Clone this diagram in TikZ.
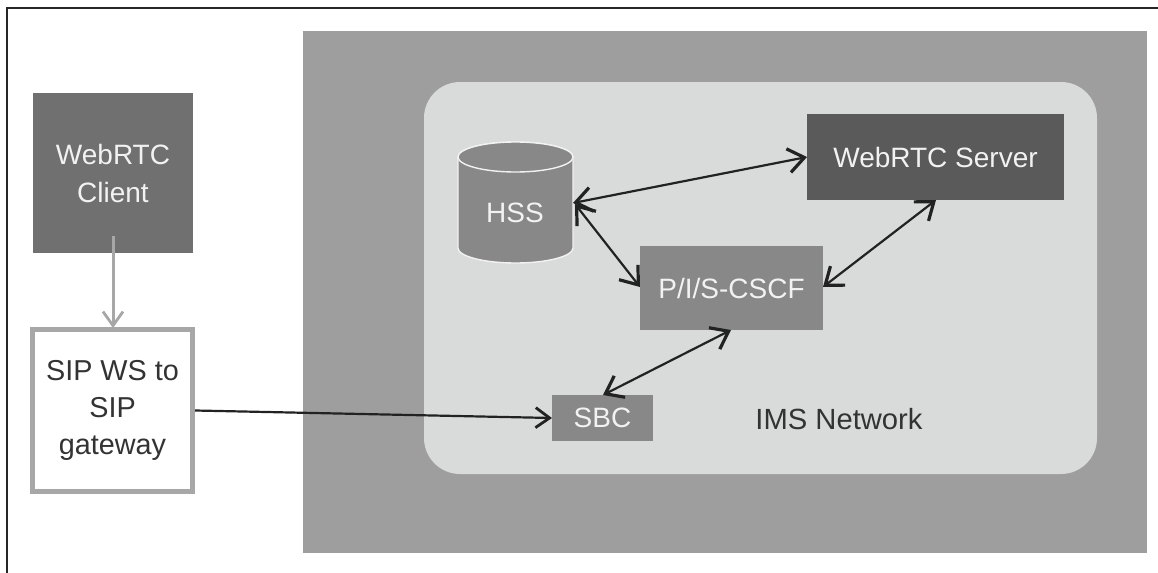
\documentclass[tikz,border=0pt]{standalone}
\usepackage{fontspec}
\setmainfont{Liberation Sans}
\usetikzlibrary{arrows.meta}
\definecolor{outerc}{HTML}{9D9E9D}
\definecolor{innerc}{HTML}{D9DBDA}
\definecolor{clientc}{HTML}{707070}
\definecolor{serverc}{HTML}{5A5A5A}
\definecolor{midc}{HTML}{888888}
\definecolor{gatec}{HTML}{A6A7A6}
\definecolor{linec}{HTML}{222222}
\definecolor{softw}{HTML}{F2F2F2}
\tikzset{
  x=0.5pt,y=-0.5pt,
  area/.style={anchor=north west,inner sep=0pt,outer sep=0pt},
  dark/.style={area,text=softw,align=center,font=\fontsize{14}{19}\selectfont},
  link/.style={draw=linec,line width=1.1pt,{Straight Barb[length=8pt,width=12pt,line width=1.6pt]}-{Straight Barb[length=8pt,width=12pt,line width=1.6pt]}},
  oneway/.style={draw=linec,line width=1.1pt,-{Straight Barb[length=7pt,width=10pt,line width=1.4pt]}},
}
\begin{document}
\begin{tikzpicture}
\useasboundingbox (0,0) rectangle (1158,573);
\draw[draw=black!85,line width=1.1pt] (7,573) -- (7,8) -- (1158,8);
\node[area,fill=outerc,minimum width=422pt,minimum height=261pt] (net) at (303,31) {};
\node[area,fill=innerc,rounded corners=18pt,minimum width=336.5pt,minimum height=196pt] (ims) at (424,82) {};
\node[dark,fill=clientc,minimum width=80pt,minimum height=80pt] (client) at (33,93) {WebRTC\\Client};
\node[area,draw=gatec,fill=white,line width=2.5pt,minimum width=80pt,minimum height=81pt,text=black!80,align=center,font=\fontsize{14.4}{18.3}\selectfont] (gate) at (32.5,329.5) {SIP WS to\\SIP\\gateway};
\node[dark,fill=serverc,minimum width=128.5pt,minimum height=43pt] (server) at (807,114) {WebRTC Server};
\node[dark,fill=midc,minimum width=91.5pt,minimum height=42pt] (cscf) at (640,246) {P/I/S-CSCF};
\node[dark,fill=midc,minimum width=50.5pt,minimum height=23pt] (sbc) at (552,395) {SBC};
% HSS cylinder
\draw[draw=softw,fill=midc,line width=0.7pt] (458,157) arc[x radius=57.5,y radius=15,start angle=180,end angle=360] -- (573,248) arc[x radius=57.5,y radius=15,start angle=0,end angle=180] -- cycle;
\draw[draw=softw,fill=midc,line width=0.7pt] (515.5,157) ellipse[x radius=57.5,y radius=15];
\node[text=softw,font=\fontsize{14}{20}\selectfont,inner sep=0pt] (hss) at (515,213) {HSS};
\node[font=\fontsize{14.6}{20}\selectfont,text=black!80,inner sep=0pt] (imslabel) at (839,419) {IMS Network};
\coordinate (hssA) at (573,203);
\coordinate (hssB) at (575,204);
\coordinate (serverW) at (807,157);
\coordinate (serverS) at (936,200);
\coordinate (cscfW) at (640,287);
\coordinate (cscfE) at (823,287);
\coordinate (cscfS) at (731,330);
\coordinate (sbcN) at (603,395);
\coordinate (gateE) at (195,410.5);
\coordinate (sbcW) at (552,418);
\coordinate (clientS) at (113,236);
\coordinate (gateN) at (113,328);
\draw[link] (hssA) -- (serverW);
\draw[link] (hssB) -- (cscfW);
\draw[link] (cscfE) -- (serverS);
\draw[link] (sbcN) -- (cscfS);
\draw[oneway] (gateE) -- (sbcW);
\draw[oneway,draw=gatec,line width=1.5pt] (clientS) -- (gateN);
\end{tikzpicture}
\end{document}
